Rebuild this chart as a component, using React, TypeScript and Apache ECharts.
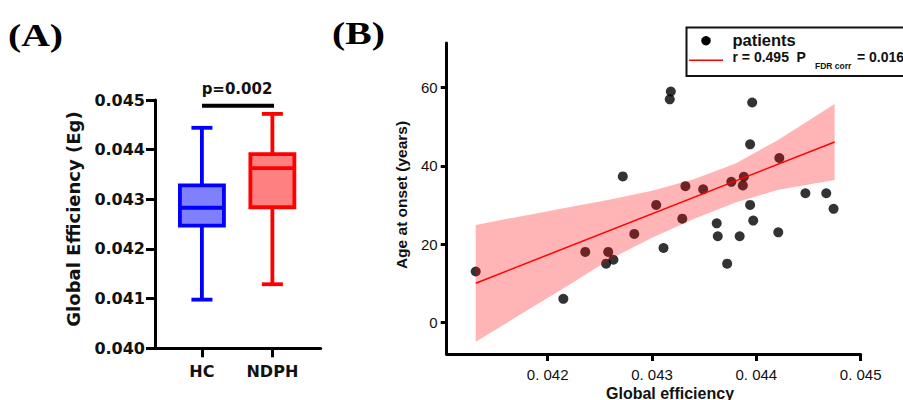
import React, { useEffect, useRef } from "react";
import * as echarts from "echarts";

// ---------- Panel A data ----------
const groups = ["HC", "NDPH"];
const whiskerMin = [0.04098, 0.04129];
const quartile1 = [0.04247, 0.04284];
const medians = [0.04283, 0.04363];
const quartile3 = [0.04328, 0.04391];
const whiskerMax = [0.04444, 0.04472];
const yTicksA = [0.04, 0.041, 0.042, 0.043, 0.044, 0.045];
const pValueLabel = "p=0.002";

// ---------- Panel B data ----------
const efficiency = [
  0.04131, 0.04215, 0.04236, 0.04258, 0.04256, 0.04263, 0.04283, 0.04272,
  0.04304, 0.04311, 0.04329, 0.04332, 0.04349, 0.04318, 0.04317, 0.04362,
  0.04363, 0.04372, 0.04376, 0.04384, 0.04387, 0.04388, 0.04394, 0.04394,
  0.04396, 0.04397, 0.04421, 0.04422, 0.04447, 0.04467, 0.04474,
];
const ageAtOnset = [
  13, 6, 18, 18, 15, 16, 22.6, 37.3,
  30, 19, 26.5, 34.8, 34, 59, 57, 25.3,
  22, 15, 35.9, 22, 35, 37.2, 30, 45.5,
  56.2, 26, 23, 42, 33, 33, 29,
];
const fitX = [0.04131, 0.04475];
const fitY = [10.0, 46.1];
const bandX = [0.04131, 0.0418, 0.0422, 0.0426, 0.043, 0.0434, 0.0438, 0.0442, 0.04475];
const bandUpper = [24.9, 27.4, 29.4, 31.4, 33.6, 36.6, 40.6, 46.5, 55.8];
const bandLower = [-5.0, 3.0, 9.5, 16.2, 21.6, 26.4, 30.6, 33.8, 36.4];
const xTicksB = [0.042, 0.043, 0.044, 0.045];
const xTickLabelsB = ["0. 042", "0. 043", "0. 044", "0. 045"];
const yTicksB = [0, 20, 40, 60];

const boxColors = [
  { stroke: "#0000ff", fill: "#8080ff" },
  { stroke: "#ff0000", fill: "#ff8080" },
];

const FA = "DejaVu Sans";
const FB = "Liberation Sans";

export default function App() {
  const ref = useRef<HTMLDivElement>(null);
  useEffect(() => {
    if (!ref.current) return;
    const chart = echarts.init(ref.current, undefined, { renderer: "svg" });

    const boxData = groups.map((_, i) => [
      i,
      whiskerMin[i],
      quartile1[i],
      medians[i],
      quartile3[i],
      whiskerMax[i],
    ]);

    const option: any = {
      animation: false,
      backgroundColor: "#ffffff",
      grid: [
        { left: 155, top: 100, width: 165.7, height: 248.3 },
        { left: 446.7, top: 43, width: 414, height: 311 },
      ],
      xAxis: [
        {
          gridIndex: 0,
          type: "value",
          min: -0.666,
          max: 1.686,
          splitLine: { show: false },
          axisLine: { show: true, onZero: false, lineStyle: { color: "#000", width: 3 } },
          axisTick: { show: true, customValues: [0, 1], length: 9, lineStyle: { color: "#000", width: 3 } },
          axisLabel: {
            customValues: [0, 1],
            formatter: (v: number) => groups[Math.round(v)],
            fontFamily: FA,
            fontWeight: "bold",
            fontSize: 16,
            color: "#111",
            margin: 15,
          },
        },
        {
          gridIndex: 1,
          type: "value",
          min: 0.041032,
          max: 0.045,
          splitLine: { show: false },
          axisLine: { show: true, onZero: false, lineStyle: { color: "#000", width: 3 } },
          axisTick: { show: true, customValues: xTicksB, length: 7, lineStyle: { color: "#000", width: 3 } },
          axisLabel: {
            customValues: xTicksB,
            formatter: (v: number) => {
              let best = 0;
              xTicksB.forEach((t, i) => {
                if (Math.abs(t - v) < Math.abs(xTicksB[best] - v)) best = i;
              });
              return xTickLabelsB[best];
            },
            fontFamily: FB,
            fontSize: 15,
            color: "#111",
            margin: 13,
          },
        },
      ],
      yAxis: [
        {
          gridIndex: 0,
          type: "value",
          min: 0.04,
          max: 0.045,
          splitLine: { show: false },
          axisLine: { show: true, onZero: false, lineStyle: { color: "#000", width: 3 } },
          axisTick: { show: true, customValues: yTicksA, length: 9, lineStyle: { color: "#000", width: 3 } },
          axisLabel: {
            customValues: yTicksA,
            formatter: (v: number) => v.toFixed(3),
            fontFamily: FA,
            fontWeight: "bold",
            fontSize: 16,
            color: "#111",
            margin: 10,
          },
        },
        {
          gridIndex: 1,
          type: "value",
          min: -8.1,
          max: 71.4,
          splitLine: { show: false },
          axisLine: { show: true, onZero: false, lineStyle: { color: "#000", width: 3 } },
          axisTick: { show: true, customValues: yTicksB, length: 6, lineStyle: { color: "#000", width: 3 } },
          axisLabel: {
            customValues: yTicksB,
            fontFamily: FB,
            fontSize: 15,
            color: "#111",
            margin: 9,
          },
        },
      ],
      series: [
        {
          type: "custom",
          xAxisIndex: 0,
          yAxisIndex: 0,
          data: boxData,
          encode: { x: 0, y: [1, 2, 3, 4, 5] },
          clip: false,
          renderItem: (params: any, api: any) => {
            const i = api.value(0);
            const c = boxColors[params.dataIndex];
            const pMin = api.coord([i, api.value(1)]);
            const pQ1 = api.coord([i, api.value(2)]);
            const pMed = api.coord([i, api.value(3)]);
            const pQ3 = api.coord([i, api.value(4)]);
            const pMax = api.coord([i, api.value(5)]);
            const cx = pMin[0];
            const hw = 22;
            const cap = 10.5;
            const ls = { stroke: c.stroke, lineWidth: 3.8, fill: "none" };
            return {
              type: "group",
              children: [
                { type: "line", shape: { x1: cx, y1: pMax[1], x2: cx, y2: pQ3[1] }, style: ls },
                { type: "line", shape: { x1: cx - cap, y1: pMax[1], x2: cx + cap, y2: pMax[1] }, style: ls },
                { type: "line", shape: { x1: cx, y1: pQ1[1], x2: cx, y2: pMin[1] }, style: ls },
                { type: "line", shape: { x1: cx - cap, y1: pMin[1], x2: cx + cap, y2: pMin[1] }, style: ls },
                {
                  type: "rect",
                  shape: { x: cx - hw, y: pQ3[1], width: hw * 2, height: pQ1[1] - pQ3[1] },
                  style: { fill: c.fill, stroke: c.stroke, lineWidth: 3.8 },
                },
                { type: "line", shape: { x1: cx - hw, y1: pMed[1], x2: cx + hw, y2: pMed[1] }, style: ls },
              ],
            };
          },
        },
        {
          type: "scatter",
          xAxisIndex: 1,
          yAxisIndex: 1,
          symbol: "circle",
          symbolSize: 10,
          itemStyle: { color: "#000" },
          data: efficiency.map((x, i) => [x, ageAtOnset[i]]),
          z: 2,
        },
        {
          type: "custom",
          xAxisIndex: 1,
          yAxisIndex: 1,
          z: 3,
          data: [[bandX[0], bandUpper[0]]],
          renderItem: (params: any, api: any) => {
            if (params.dataIndex !== 0) return null;
            const upper = bandX.map((x, i) => api.coord([x, bandUpper[i]]));
            const lower = bandX.map((x, i) => api.coord([x, bandLower[i]])).reverse();
            return {
              type: "polygon",
              shape: { points: upper.concat(lower) },
              style: { fill: "rgba(255,0,0,0.29)", stroke: "none" },
            };
          },
          silent: true,
        },
        {
          type: "line",
          xAxisIndex: 1,
          yAxisIndex: 1,
          z: 4,
          symbol: "none",
          lineStyle: { color: "#ff0000", width: 1.5 },
          data: fitX.map((x, i) => [x, fitY[i]]),
        },
      ],
      graphic: [
        {
          type: "text",
          x: 8,
          y: 36,
          scaleX: 1.28,
          style: {
            text: "(A)",
            fontFamily: "Liberation Serif",
            fontWeight: "bold",
            fontSize: 31,
            fill: "#000",
            align: "left",
            verticalAlign: "middle",
          },
        },
        {
          type: "text",
          x: 332,
          y: 34,
          scaleX: 1.28,
          style: {
            text: "(B)",
            fontFamily: "Liberation Serif",
            fontWeight: "bold",
            fontSize: 31,
            fill: "#000",
            align: "left",
            verticalAlign: "middle",
          },
        },
        {
          type: "text",
          x: 237,
          y: 89,
          style: {
            text: pValueLabel,
            fontFamily: FA,
            fontWeight: "bold",
            fontSize: 15,
            fill: "#111",
            align: "center",
            verticalAlign: "middle",
          },
        },
        {
          type: "line",
          shape: { x1: 202, y1: 105.7, x2: 274, y2: 105.7 },
          style: { stroke: "#000", lineWidth: 4 },
        },
        {
          type: "text",
          x: 73,
          y: 219,
          rotation: Math.PI / 2,
          style: {
            text: "Global Efficiency (Eg)",
            fontFamily: FA,
            fontWeight: "bold",
            fontSize: 18,
            fill: "#111",
            align: "center",
            verticalAlign: "middle",
          },
        },
        {
          type: "text",
          x: 401,
          y: 195,
          rotation: Math.PI / 2,
          style: {
            text: "Age at onset (years)",
            fontFamily: FB,
            fontWeight: "bold",
            fontSize: 15.5,
            fill: "#111",
            align: "center",
            verticalAlign: "middle",
          },
        },
        {
          type: "text",
          x: 670,
          y: 393,
          style: {
            text: "Global efficiency",
            fontFamily: FB,
            fontWeight: "bold",
            fontSize: 16,
            fill: "#111",
            align: "center",
            verticalAlign: "middle",
          },
        },
        {
          type: "rect",
          shape: { x: 686.5, y: 27.5, width: 230, height: 48.5 },
          style: { fill: "#fff", stroke: "#111", lineWidth: 2 },
          z: 100,
        },
        {
          type: "circle",
          shape: { cx: 706, cy: 40.7, r: 4.7 },
          style: { fill: "#000" },
          z: 101,
        },
        {
          type: "line",
          shape: { x1: 689, y1: 60.3, x2: 723, y2: 60.3 },
          style: { stroke: "#ff0000", lineWidth: 1.5 },
          z: 101,
        },
        {
          type: "text",
          x: 732.5,
          y: 40,
          z: 101,
          style: {
            text: "patients",
            fontFamily: FB,
            fontWeight: "bold",
            fontSize: 16.5,
            fill: "#111",
            align: "left",
            verticalAlign: "middle",
          },
        },
        {
          type: "text",
          x: 732.5,
          y: 57,
          z: 101,
          style: {
            text: "r = 0.495",
            fontFamily: FB,
            fontWeight: "bold",
            fontSize: 14,
            fill: "#111",
            align: "left",
            verticalAlign: "middle",
          },
        },
        {
          type: "text",
          x: 796.5,
          y: 57,
          z: 101,
          style: {
            text: "P",
            fontFamily: FB,
            fontWeight: "bold",
            fontSize: 14,
            fill: "#111",
            align: "left",
            verticalAlign: "middle",
          },
        },
        {
          type: "text",
          x: 815,
          y: 66,
          z: 101,
          style: {
            text: "FDR corr",
            fontFamily: FB,
            fontWeight: "bold",
            fontSize: 8.5,
            fill: "#111",
            align: "left",
            verticalAlign: "middle",
          },
        },
        {
          type: "text",
          x: 857,
          y: 57,
          z: 101,
          style: {
            text: "= 0.016",
            fontFamily: FB,
            fontWeight: "bold",
            fontSize: 14,
            fill: "#111",
            align: "left",
            verticalAlign: "middle",
          },
        },
      ],
    };
    chart.setOption(option);
    return () => chart.dispose();
  }, []);
  return (
    <div
      ref={ref}
      style={{ position: "fixed", left: 0, top: 0, width: 903, height: 400, background: "#fff" }}
    />
  );
}
